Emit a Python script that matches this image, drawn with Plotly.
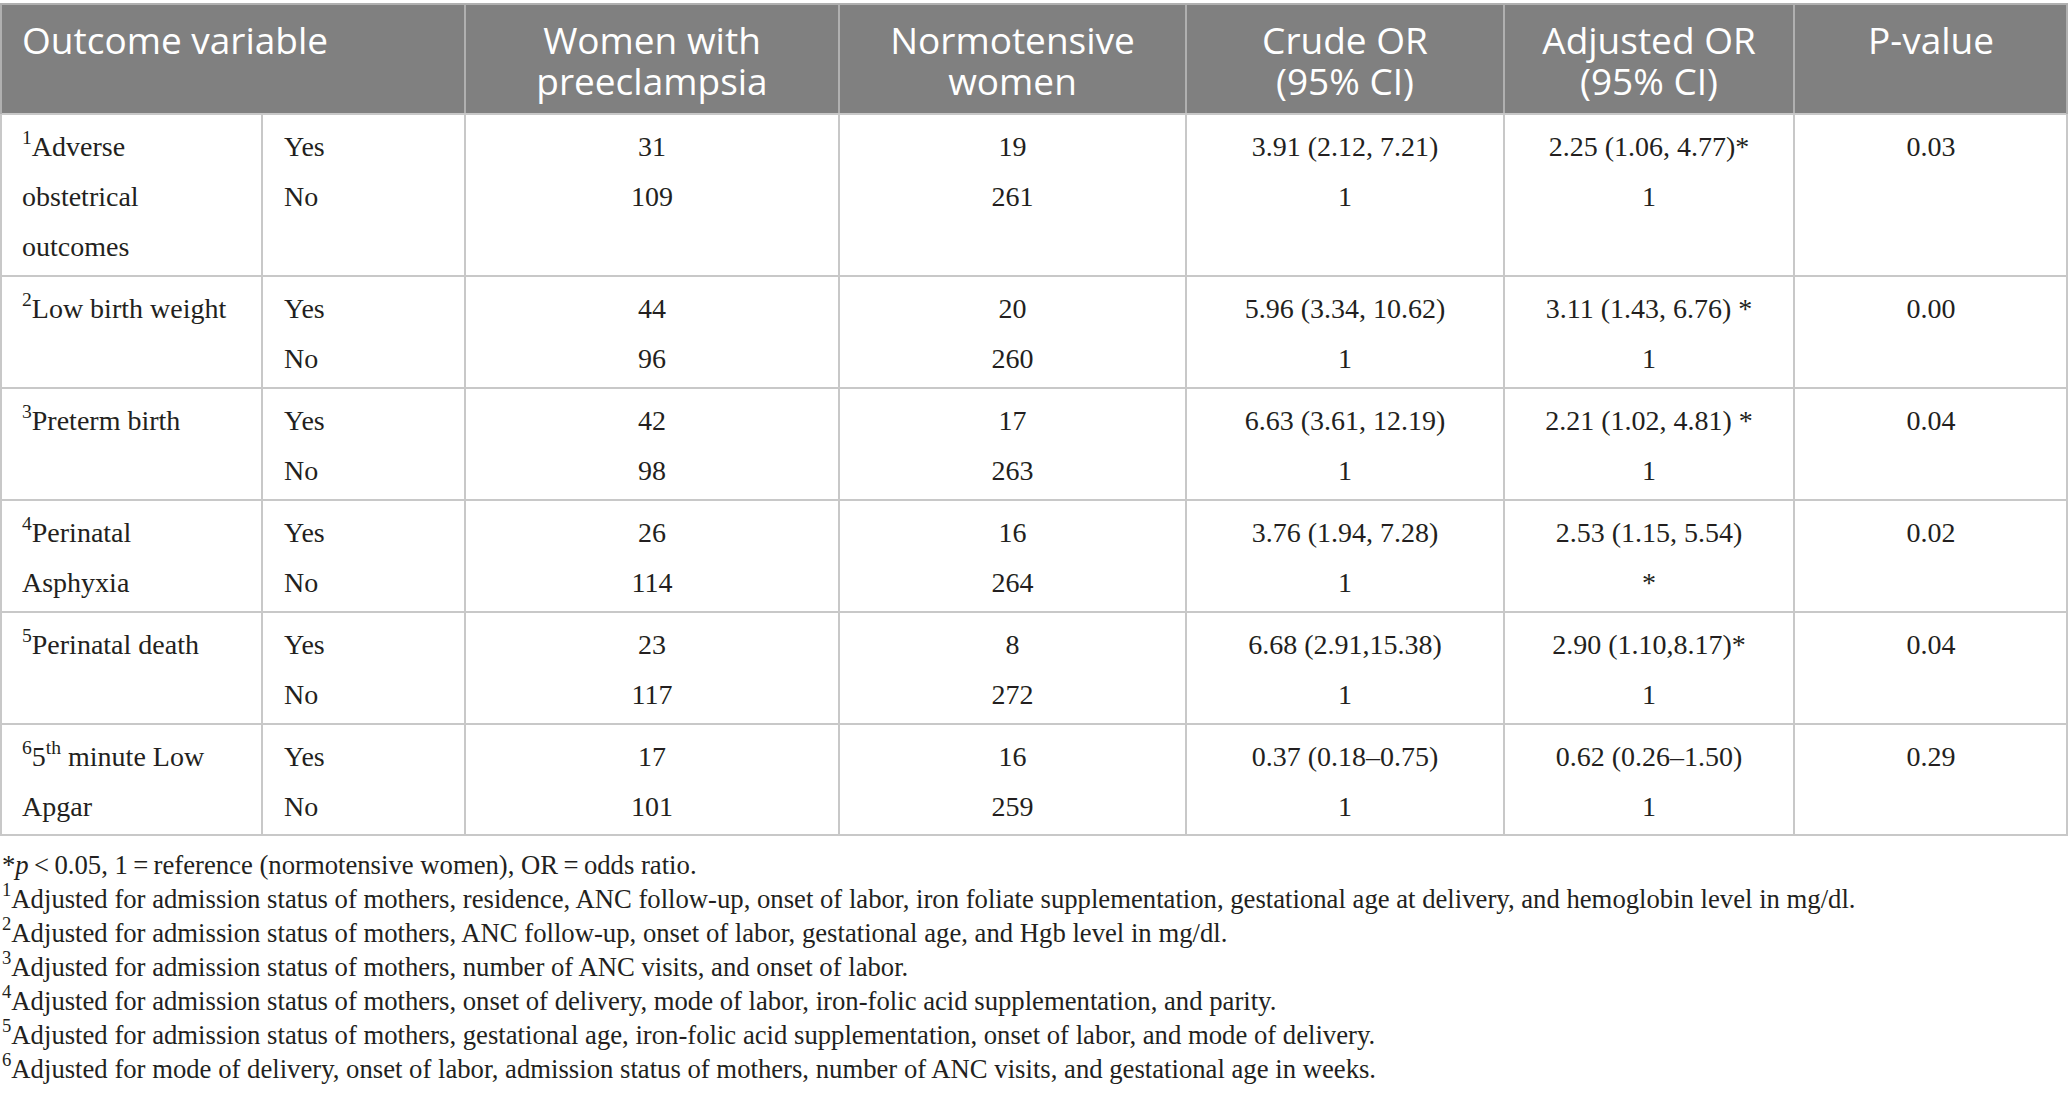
import plotly.graph_objects as go

# --- Table content ---
header_labels = ["Outcome variable", "Women with<br>preeclampsia", "Normotensive<br>women",
                 "Crude OR<br>(95% CI)", "Adjusted OR<br>(95% CI)", "P-value"]

outcome_labels = [
    ["<sup>1</sup>Adverse", "obstetrical", "outcomes"],
    ["<sup>2</sup>Low birth weight"],
    ["<sup>3</sup>Preterm birth"],
    ["<sup>4</sup>Perinatal", "Asphyxia"],
    ["<sup>5</sup>Perinatal death"],
    ["<sup>6</sup>5<sup>th</sup> minute Low", "Apgar"],
]
answer_labels = ["Yes", "No"]

preeclampsia_yes = [31, 44, 42, 26, 23, 17]
preeclampsia_no = [109, 96, 98, 114, 117, 101]
normotensive_yes = [19, 20, 17, 16, 8, 16]
normotensive_no = [261, 260, 263, 264, 272, 259]
crude_or_yes = ["3.91 (2.12, 7.21)", "5.96 (3.34, 10.62)", "6.63 (3.61, 12.19)",
                "3.76 (1.94, 7.28)", "6.68 (2.91,15.38)", "0.37 (0.18–0.75)"]
crude_or_no = ["1", "1", "1", "1", "1", "1"]
adjusted_or_yes = ["2.25 (1.06, 4.77)*", "3.11 (1.43, 6.76) *", "2.21 (1.02, 4.81) *",
                   "2.53 (1.15, 5.54)", "2.90 (1.10,8.17)*", "0.62 (0.26–1.50)"]
adjusted_or_no = ["1", "1", "1", "*", "1", "1"]
p_values = ["0.03", "0.00", "0.04", "0.02", "0.04", "0.29"]

footnotes = [
    "*<i>p</i>\u2009<\u20090.05, 1\u2009=\u2009reference (normotensive women), OR\u2009=\u2009odds ratio.",
    "<sup>1</sup>Adjusted for admission status of mothers, residence, ANC follow-up, onset of labor, iron foliate supplementation, gestational age at delivery, and hemoglobin level in mg/dl.",
    "<sup>2</sup>Adjusted for admission status of mothers, ANC follow-up, onset of labor, gestational age, and Hgb level in mg/dl.",
    "<sup>3</sup>Adjusted for admission status of mothers, number of ANC visits, and onset of labor.",
    "<sup>4</sup>Adjusted for admission status of mothers, onset of delivery, mode of labor, iron-folic acid supplementation, and parity.",
    "<sup>5</sup>Adjusted for admission status of mothers, gestational age, iron-folic acid supplementation, onset of labor, and mode of delivery.",
    "<sup>6</sup>Adjusted for mode of delivery, onset of labor, admission status of mothers, number of ANC visits, and gestational age in weeks.",
]

# --- Layout geometry (pixels) ---
W, H = 2068, 1112
col_edges = [0, 262, 465, 839, 1186, 1504, 1794, 2068]
header_top, header_bottom = 4, 114
row_heights = [162, 112, 112, 112, 112, 111]
first_line = 35
line_pitch = 50
pad = 22
head_y0, head_pitch = 45, 41
foot_y0, foot_pitch = 867, 34

row_tops = [header_bottom]
for h in row_heights:
    row_tops.append(row_tops[-1] + h)

centers = [(col_edges[i] + col_edges[i + 1]) / 2 for i in range(len(col_edges) - 1)]

# --- Collect body text positions ---
left_x, left_y, left_t = [], [], []
mid_x, mid_y, mid_t = [], [], []

value_cols = [
    (preeclampsia_yes, preeclampsia_no),
    (normotensive_yes, normotensive_no),
    (crude_or_yes, crude_or_no),
    (adjusted_or_yes, adjusted_or_no),
]

for r in range(len(outcome_labels)):
    y0 = row_tops[r] + first_line
    for k, line in enumerate(outcome_labels[r]):
        left_x.append(col_edges[0] + pad)
        left_y.append(y0 + k * line_pitch)
        left_t.append(line)
    for k, ans in enumerate(answer_labels):
        left_x.append(col_edges[1] + pad)
        left_y.append(y0 + k * line_pitch)
        left_t.append(ans)
    for c, (yes_vals, no_vals) in enumerate(value_cols):
        for k, v in enumerate([yes_vals[r], no_vals[r]]):
            mid_x.append(centers[c + 2])
            mid_y.append(y0 + k * line_pitch)
            mid_t.append(str(v))
    mid_x.append(centers[6])
    mid_y.append(y0)
    mid_t.append(p_values[r])

# --- Header text positions ---
hl_x, hl_y, hl_t = [col_edges[0] + pad], [head_y0], [header_labels[0]]
hc_x, hc_y, hc_t = [], [], []
for c, lab in enumerate(header_labels[1:]):
    for k, part in enumerate(lab.split("<br>")):
        hc_x.append(centers[c + 2])
        hc_y.append(head_y0 + k * head_pitch)
        hc_t.append(part)

# --- Footnote positions ---
fn_x = [2] * len(footnotes)
fn_y = [foot_y0 + i * foot_pitch for i in range(len(footnotes))]

body_font = dict(family="Liberation Serif", size=28, color="#231f20")
head_font = dict(family="Open Sans", size=37, color="white")
foot_font = dict(family="Liberation Serif", size=26.7, color="#231f20")

fig = go.Figure()
fig.add_trace(go.Scatter(x=left_x, y=left_y, text=left_t, mode="text",
                         textposition="middle right", textfont=body_font,
                         hoverinfo="skip", cliponaxis=False))
fig.add_trace(go.Scatter(x=mid_x, y=mid_y, text=mid_t, mode="text",
                         textposition="middle center", textfont=body_font,
                         hoverinfo="skip", cliponaxis=False))
fig.add_trace(go.Scatter(x=hl_x, y=hl_y, text=hl_t, mode="text",
                         textposition="middle right", textfont=head_font,
                         hoverinfo="skip", cliponaxis=False))
fig.add_trace(go.Scatter(x=hc_x, y=hc_y, text=hc_t, mode="text",
                         textposition="middle center", textfont=head_font,
                         hoverinfo="skip", cliponaxis=False))
fig.add_trace(go.Scatter(x=fn_x, y=fn_y, text=footnotes, mode="text",
                         textposition="middle right", textfont=foot_font,
                         hoverinfo="skip", cliponaxis=False))

# --- Cell fills and grid lines ---
body_line = dict(color="#c8c8c8", width=2)
head_line = dict(color="#b0b0b0", width=2)
shapes = [dict(type="rect", xref="x", yref="y", x0=0, x1=W, y0=header_top, y1=header_bottom,
               fillcolor="#808080", line=dict(width=0), layer="below")]
shapes.append(dict(type="line", xref="x", yref="y", x0=0, x1=W, y0=header_top, y1=header_top,
                   line=head_line, layer="below"))
for xe in col_edges[2:-1]:
    shapes.append(dict(type="line", xref="x", yref="y", x0=xe, x1=xe,
                       y0=header_top, y1=header_bottom, line=head_line, layer="below"))
for ye in row_tops:
    shapes.append(dict(type="line", xref="x", yref="y", x0=0, x1=W, y0=ye, y1=ye,
                       line=body_line, layer="below"))
for xe in [1] + col_edges[1:-1] + [W - 1]:
    shapes.append(dict(type="line", xref="x", yref="y", x0=xe, x1=xe,
                       y0=header_bottom, y1=row_tops[-1], line=body_line, layer="below"))
for xe in [1, W - 1]:
    shapes.append(dict(type="line", xref="x", yref="y", x0=xe, x1=xe,
                       y0=header_top, y1=header_bottom, line=head_line, layer="below"))

fig.update_layout(
    width=W, height=H,
    margin=dict(l=0, r=0, t=0, b=0),
    paper_bgcolor="white", plot_bgcolor="white",
    showlegend=False,
    shapes=shapes,
    xaxis=dict(range=[0, W], visible=False, fixedrange=True),
    yaxis=dict(range=[H, 0], visible=False, fixedrange=True),
)

fig.write_html("out.html", config={"displayModeBar": False},
               post_script="document.body.style.margin='0';")
